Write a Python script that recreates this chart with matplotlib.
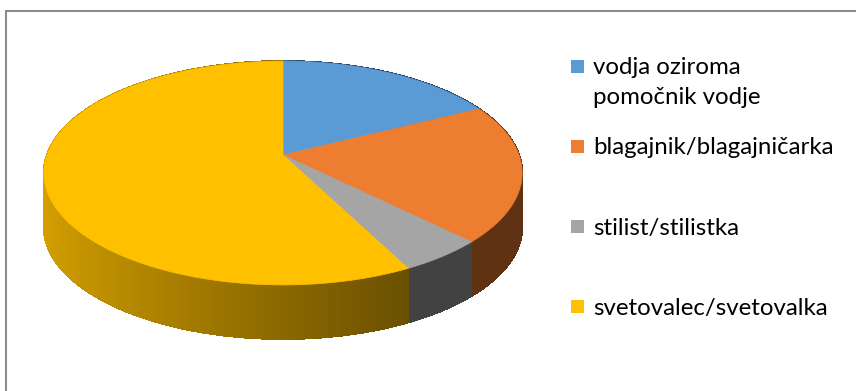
import numpy as np
import matplotlib
matplotlib.use("Agg")
import matplotlib.pyplot as plt
from matplotlib.patches import Polygon, Rectangle
from matplotlib.colors import to_rgb

labels = ['vodja oziroma\npomočnik vodje', 'blagajnik/blagajničarka',
          'stilist/stilistka', 'svetovalec/svetovalka']
shares = [17.5, 20.0, 5.0, 57.5]
colors = ['#5B9BD5', '#ED7D31', '#A5A5A5', '#FFC000']

# pie geometry (pixels)
CX, CY = 283, 155
RX, RY = 236, 109
K = 0.161          # perspective: far side squeezed
DEPTH = 54


def project(theta):
    # theta runs clockwise from the far edge of the disc
    u, v = np.sin(theta), np.cos(theta)
    w = 1 + K * v
    return CX + RX * u / w, CY - RY * v / w


def shade(theta):
    # light from the left, wall gets darker towards the front right
    f = 0.544 + 0.296 * np.cos(theta - 1.5 * np.pi)
    return max(f, 0.40)


fig = plt.figure(figsize=(8.56, 3.91), dpi=100)
ax = fig.add_axes([0, 0, 1, 1])
ax.set_xlim(0, 856)
ax.set_ylim(391, 0)
ax.axis('off')

bounds = np.concatenate([[0], np.cumsum(shares)]) / sum(shares) * 2 * np.pi

# side wall, cut in thin strips so it can be shaded
strips = []
for i in range(len(shares)):
    n = max(int((bounds[i + 1] - bounds[i]) / np.radians(1)), 2)
    th = np.linspace(bounds[i], bounds[i + 1], n + 1)
    base = np.array(to_rgb(colors[i]))
    for a, b in zip(th[:-1], th[1:]):
        xa, ya = project(a)
        xb, yb = project(b)
        pts = [(xa, ya), (xb, yb), (xb, yb + DEPTH), (xa, ya + DEPTH)]
        mid = (a + b) / 2
        strips.append((np.cos(mid), pts, base * shade(mid)))

strips.sort(key=lambda s: -s[0])
for _, pts, c in strips:
    ax.add_patch(Polygon(pts, closed=True, facecolor=c, edgecolor=c, lw=0.8,
                         antialiased=False))

# top face
for i in range(len(shares)):
    th = np.linspace(bounds[i], bounds[i + 1], 200)
    xs, ys = project(th)
    pts = [(CX, CY)] + list(zip(xs, ys))
    ax.add_patch(Polygon(pts, closed=True, facecolor=colors[i],
                         edgecolor=colors[i], lw=0.5))

# legend
for i, lab in enumerate(labels):
    yc = 66 + 80 * i
    ax.add_patch(Rectangle((571, yc - 6.5), 13, 13, facecolor=colors[i],
                           edgecolor='none'))
    for j, line in enumerate(lab.split('\n')):
        ax.text(593, yc + 2 + 30 * j, line, fontsize=17.3, family='Lato',
                color='black', va='center', ha='left')

# chart frame
ax.plot([6.5, 6.5, 856], [391, 10.5, 10.5], color='#8c8c8c', lw=1.5,
        solid_joinstyle='miter')

fig.savefig('out.png', dpi=100)
